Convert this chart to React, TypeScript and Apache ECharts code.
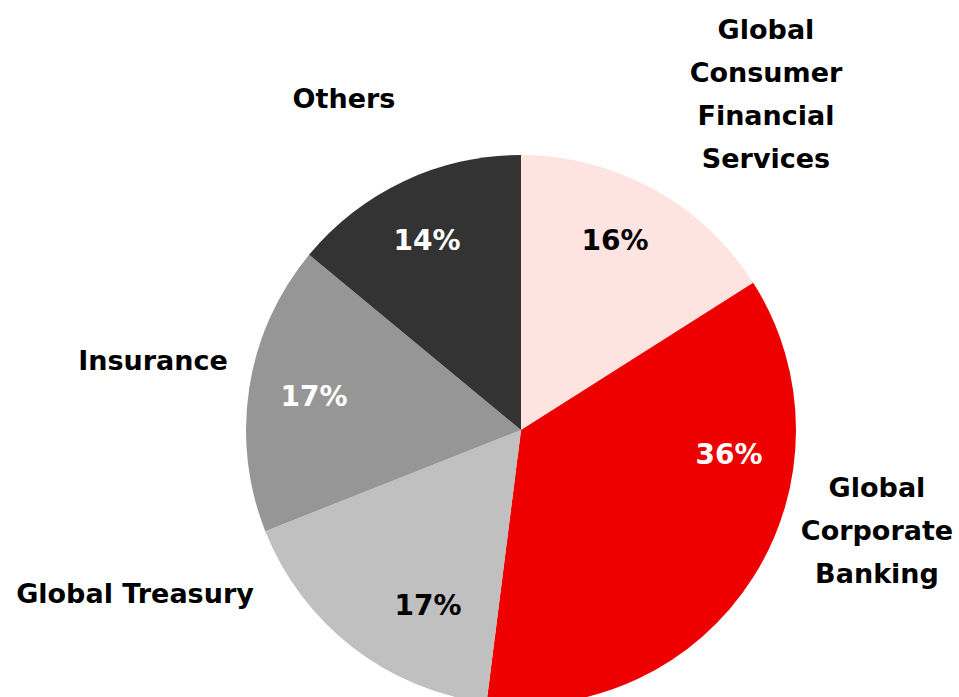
import React, { useEffect, useRef } from "react";
import * as echarts from "echarts";

const categories = [
  "Global\nConsumer\nFinancial\nServices",
  "Global\nCorporate\nBanking",
  "Global Treasury",
  "Insurance",
  "Others",
];
const values = [16, 36, 17, 17, 14];
const colors = ["#FDE4E0", "#EE0000", "#C0C0C0", "#969696", "#333333"];
const pctColors = ["#000000", "#FFFFFF", "#000000", "#FFFFFF", "#FFFFFF"];
const outerLabelPos: [number, number][] = [
  [766, 94],
  [877, 530],
  [135, 593],
  [153, 360],
  [344, 98],
];
const pctLabelPos: [number, number][] = [
  [615, 240],
  [729, 454],
  [428, 605],
  [314, 396],
  [427, 240],
];

const FONT = "'DejaVu Sans', sans-serif";

export default function App() {
  const ref = useRef<HTMLDivElement>(null);
  useEffect(() => {
    if (!ref.current) return;
    const chart = echarts.init(ref.current, undefined, { renderer: "svg" });
    const data = categories.map((name, i) => ({
      name,
      value: values[i],
      itemStyle: { color: colors[i] },
    }));
    chart.setOption({
      animation: false,
      backgroundColor: "#FFFFFF",
      series: [
        {
          type: "pie",
          center: [521, 430],
          radius: [0, 275],
          startAngle: 90,
          clockwise: true,
          silent: true,
          data,
          label: {
            show: true,
            position: "outside",
            formatter: "{b}",
            fontFamily: FONT,
            fontWeight: "bold",
            fontSize: 27,
            lineHeight: 43,
            color: "#000000",
            align: "center",
            overflow: "none",
          },
          labelLine: { show: false },
          labelLayout: (p: any) => ({
            x: outerLabelPos[p.dataIndex][0],
            y: outerLabelPos[p.dataIndex][1],
            align: "center",
            verticalAlign: "middle",
          }),
        },
        {
          type: "pie",
          center: [521, 430],
          radius: [0, 275],
          startAngle: 90,
          clockwise: true,
          silent: true,
          data: categories.map((name, i) => ({
            name,
            value: values[i],
            itemStyle: { color: "rgba(0,0,0,0)" },
            label: { color: pctColors[i] },
          })),
          label: {
            show: true,
            position: "inside",
            formatter: "{c}%",
            fontFamily: FONT,
            fontWeight: "bold",
            fontSize: 28,
            overflow: "none",
          },
          labelLine: { show: false },
          labelLayout: (p: any) => ({
            x: pctLabelPos[p.dataIndex][0],
            y: pctLabelPos[p.dataIndex][1],
            align: "center",
            verticalAlign: "middle",
          }),
        },
      ],
    });
    return () => chart.dispose();
  }, []);
  return (
    <div
      ref={ref}
      style={{ position: "fixed", left: 0, top: 0, width: 959, height: 697 }}
    />
  );
}
